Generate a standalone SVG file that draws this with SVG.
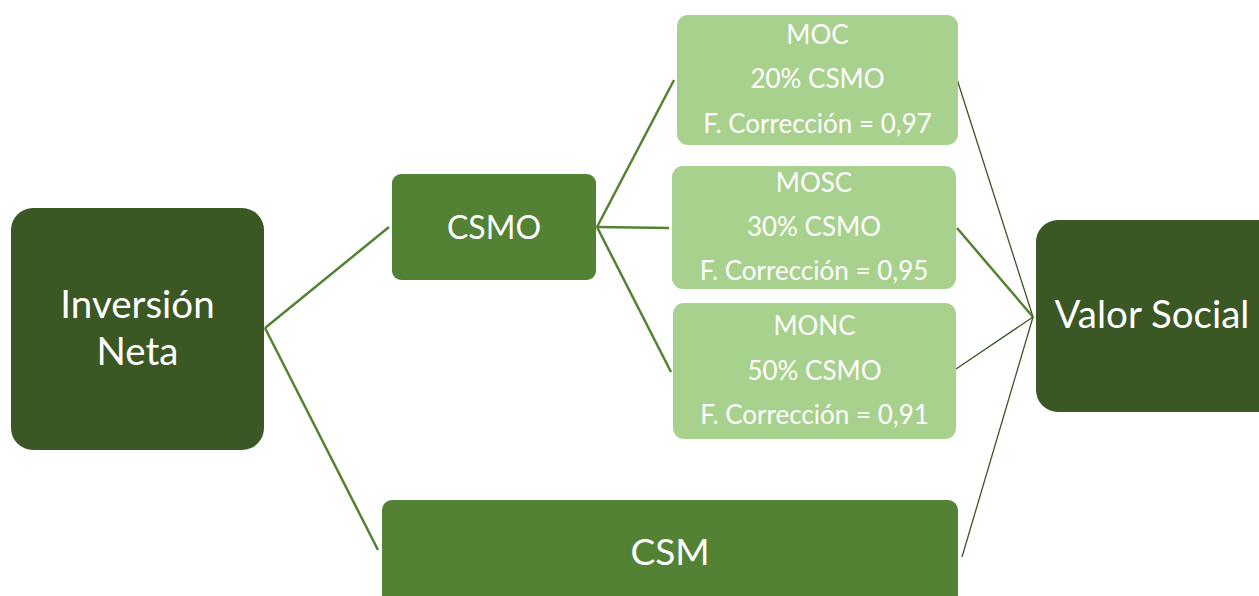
<svg xmlns="http://www.w3.org/2000/svg" width="1259" height="596" viewBox="0 0 1259 596">
  <style>
    .dark { fill: #3A5724; }
    .mid { fill: #548235; }
    .light { fill: #A9D18E; }
    .lbl { fill: #FFFFFF; font-family: Lato, "Open Sans", sans-serif; text-anchor: middle; }
    .big { font-size: 38.5px; }
    .csm { font-size: 37px; }
    .med { font-size: 32px; }
    .small { font-size: 26px; }
    .edge { stroke: #548235; fill: none; }
    .thin { stroke: #3A5724; stroke-width: 1.3; }
    .thick { stroke-width: 2.5; }
  </style>

  <g id="connectors">
    <line class="edge thick" x1="265" y1="328" x2="389" y2="227"/>
    <line class="edge thick" x1="265" y1="328" x2="378" y2="550"/>
    <line class="edge thick" x1="597" y1="227" x2="674" y2="80"/>
    <line class="edge thick" x1="597" y1="227" x2="669" y2="228"/>
    <line class="edge thick" x1="597" y1="227" x2="671" y2="372"/>
    <line class="edge thin" x1="956" y1="76" x2="1033" y2="317"/>
    <line class="edge thick" x1="957" y1="228" x2="1033" y2="317"/>
    <line class="edge thin" x1="956" y1="369" x2="1033" y2="317"/>
    <line class="edge thin" x1="962" y1="557" x2="1033" y2="317"/>
  </g>

  <g id="inversion-neta">
    <rect class="dark" x="11" y="208" width="253" height="242" rx="22"/>
    <text class="lbl big" x="137.5" y="318">Inversión</text>
    <text class="lbl big" x="137.5" y="365">Neta</text>
  </g>

  <g id="csmo">
    <rect class="mid" x="392" y="174" width="204" height="106" rx="9"/>
    <text class="lbl med" x="494" y="239">CSMO</text>
  </g>

  <g id="moc">
    <rect class="light" x="677" y="15" width="281" height="130" rx="11"/>
    <text class="lbl small" x="817.5" y="44">MOC</text>
    <text class="lbl small" x="817.5" y="88">20% CSMO</text>
    <text class="lbl small" x="817.5" y="133">F. Corrección = 0,97</text>
  </g>

  <g id="mosc">
    <rect class="light" x="672" y="166" width="284" height="123" rx="11"/>
    <text class="lbl small" x="814" y="192">MOSC</text>
    <text class="lbl small" x="814" y="236">30% CSMO</text>
    <text class="lbl small" x="814" y="280">F. Corrección = 0,95</text>
  </g>

  <g id="monc">
    <rect class="light" x="673" y="303" width="283" height="136" rx="11"/>
    <text class="lbl small" x="814.5" y="335">MONC</text>
    <text class="lbl small" x="814.5" y="380">50% CSMO</text>
    <text class="lbl small" x="814.5" y="424">F. Corrección = 0,91</text>
  </g>

  <g id="valor-social">
    <rect class="dark" x="1036" y="220" width="243" height="192" rx="22"/>
    <text class="lbl big" x="1152" y="328">Valor Social</text>
  </g>

  <g id="csm">
    <rect class="mid" x="382" y="500" width="576" height="130" rx="10"/>
    <text class="lbl csm" x="670" y="565">CSM</text>
  </g>
</svg>
